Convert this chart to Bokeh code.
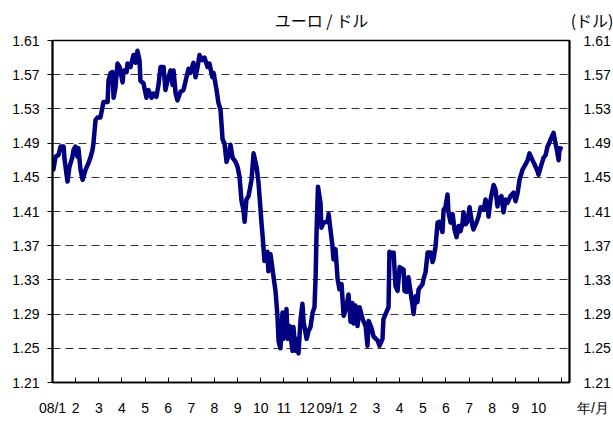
from bokeh.plotting import figure
from bokeh.models import FixedTicker, LinearAxis, Range1d, PrintfTickFormatter
from bokeh.embed import file_html
from bokeh.resources import INLINE

# months since 2008-01-01 (0 = 08/1, 12 = 09/1)
months = [0.00, 0.04, 0.13, 0.26, 0.35, 0.48, 0.52, 0.65, 0.73, 0.86, 0.91, 0.99, 1.08, 1.12, 1.21, 1.30,
          1.43, 1.56, 1.64, 1.73, 1.77, 1.86, 1.94, 2.07, 2.16, 2.20, 2.38, 2.42, 2.51, 2.59, 2.64, 2.72,
          2.81, 2.90, 3.03, 3.07, 3.20, 3.24, 3.37, 3.50, 3.59, 3.67, 3.76, 3.80, 3.93, 4.06, 4.15, 4.28,
          4.36, 4.49, 4.58, 4.67, 4.80, 4.88, 4.97, 5.10, 5.19, 5.23, 5.32, 5.40, 5.53, 5.66, 5.79, 5.88,
          5.96, 6.09, 6.18, 6.27, 6.35, 6.48, 6.57, 6.70, 6.78, 6.91, 6.96, 7.09, 7.17, 7.26, 7.35, 7.43,
          7.52, 7.61, 7.69, 7.78, 7.91, 8.00, 8.08, 8.17, 8.25, 8.30, 8.38, 8.47, 8.60, 8.69, 8.82, 8.90,
          8.99, 9.03, 9.08, 9.16, 9.29, 9.33, 9.42, 9.55, 9.64, 9.72, 9.77, 9.85, 9.94, 9.98, 10.11, 10.16,
          10.24, 10.37, 10.41, 10.50, 10.59, 10.63, 10.72, 10.80, 10.85, 10.98, 11.06, 11.15, 11.24, 11.32,
          11.37, 11.41, 11.47, 11.58, 11.62, 11.71, 11.88, 11.93, 12.10, 12.14, 12.23, 12.32, 12.40, 12.49,
          12.58, 12.71, 12.79, 12.88, 12.96, 13.01, 13.09, 13.18, 13.27, 13.40, 13.53, 13.61, 13.66, 13.79,
          13.87, 14.05, 14.13, 14.26, 14.30, 14.39, 14.52, 14.56, 14.69, 14.74, 14.82, 14.91, 15.00, 15.17,
          15.21, 15.30, 15.38, 15.47, 15.56, 15.60, 15.69, 15.77, 15.82, 15.99, 16.03, 16.12, 16.21, 16.34,
          16.42, 16.46, 16.55, 16.64, 16.72, 16.85, 16.90, 16.98, 17.07, 17.11, 17.20, 17.29, 17.37, 17.46,
          17.55, 17.63, 17.72, 17.76, 17.85, 17.93, 18.02, 18.15, 18.19, 18.32, 18.41, 18.50, 18.63, 18.71,
          18.80, 18.84, 18.93, 19.06, 19.14, 19.23, 19.27, 19.40, 19.49, 19.58, 19.66, 19.79, 19.92, 20.01,
          20.10, 20.18, 20.31, 20.44, 20.53, 20.61, 20.74, 20.83, 20.96, 21.00, 21.13, 21.22, 21.31, 21.39,
          21.43, 21.52, 21.65, 21.69, 21.78, 21.87, 21.91, 22.04]

eur_usd = [1.473, 1.459, 1.474, 1.476, 1.486, 1.486, 1.471, 1.445, 1.462, 1.474, 1.482, 1.486, 1.474, 1.484, 1.459, 1.447,
           1.459, 1.467, 1.473, 1.482, 1.490, 1.517, 1.520, 1.520, 1.532, 1.538, 1.538, 1.563, 1.572, 1.573, 1.543, 1.555,
           1.583, 1.579, 1.561, 1.575, 1.573, 1.583, 1.579, 1.593, 1.584, 1.598, 1.587, 1.563, 1.560, 1.543, 1.552, 1.543,
           1.548, 1.544, 1.558, 1.579, 1.579, 1.552, 1.563, 1.575, 1.558, 1.575, 1.548, 1.540, 1.550, 1.552, 1.567, 1.577,
           1.572, 1.584, 1.567, 1.579, 1.593, 1.587, 1.590, 1.579, 1.583, 1.567, 1.572, 1.552, 1.537, 1.529, 1.494, 1.490,
           1.468, 1.476, 1.488, 1.473, 1.468, 1.462, 1.451, 1.422, 1.412, 1.398, 1.424, 1.428, 1.447, 1.478, 1.462, 1.444,
           1.412, 1.397, 1.381, 1.352, 1.363, 1.340, 1.360, 1.334, 1.316, 1.288, 1.258, 1.250, 1.292, 1.261, 1.296, 1.261,
           1.276, 1.247, 1.275, 1.247, 1.261, 1.244, 1.284, 1.302, 1.281, 1.261, 1.270, 1.275, 1.292, 1.298,
           1.334, 1.386, 1.439, 1.420, 1.391, 1.397, 1.398, 1.407, 1.369, 1.354, 1.366, 1.331, 1.319, 1.325,
           1.288, 1.300, 1.313, 1.281, 1.303, 1.279, 1.300, 1.276, 1.298, 1.284, 1.276, 1.253, 1.282, 1.273,
           1.264, 1.259, 1.253, 1.261, 1.284, 1.290, 1.298, 1.363, 1.360, 1.362, 1.323, 1.317, 1.345, 1.342,
           1.317, 1.316, 1.333, 1.316, 1.300, 1.290, 1.311, 1.304, 1.319, 1.325, 1.331, 1.339, 1.362, 1.362,
           1.351, 1.354, 1.369, 1.397, 1.398, 1.386, 1.412, 1.415, 1.430, 1.409, 1.397, 1.407, 1.389, 1.380,
           1.393, 1.387, 1.397, 1.409, 1.395, 1.398, 1.415, 1.393, 1.389, 1.397, 1.404, 1.415, 1.412, 1.424,
           1.418, 1.404, 1.424, 1.441, 1.436, 1.416, 1.424, 1.428, 1.409, 1.424, 1.420, 1.428, 1.432, 1.422,
           1.432, 1.447, 1.459, 1.465, 1.470, 1.478, 1.470, 1.465, 1.457, 1.453, 1.465, 1.473, 1.476, 1.486,
           1.488, 1.494, 1.502, 1.496, 1.484, 1.470, 1.484, 1.483]

X_END = 22.34

x_ticks = list(range(0, 23)) + [X_END]
x_tick_labels = ["08/1", "2", "3", "4", "5", "6", "7", "8", "9", "10", "11", "12",
                 "09/1", "2", "3", "4", "5", "6", "7", "8", "9", "10", "",
                 "\u00a0" * 12 + "年/月"]
y_ticks = [1.21, 1.25, 1.29, 1.33, 1.37, 1.41, 1.45, 1.49, 1.53, 1.57, 1.61]

# top texts: chart title and the unit of the value axes
top_ticks = [11.62, X_END]
top_labels = ["ユーロ / ドル", "\u00a0" * 13 + "(ドル)"]

NUM_FONT = "Liberation Sans"
JP_FONT = "Noto Sans CJK JP"

p = figure(width=613, height=418, output_backend="svg", toolbar_location=None,
           x_range=Range1d(0, X_END), y_range=Range1d(1.21, 1.61),
           min_border_left=52, min_border_right=44, min_border_top=40, min_border_bottom=34)
p.background_fill_color = "white"
p.border_fill_color = "white"
p.outline_line_color = "black"
p.outline_line_width = 1.5

p.line(months, eur_usd, line_width=4.5, line_color="#000080", line_join="round")

# grid
p.xgrid.visible = False
p.ygrid.ticker = FixedTicker(ticks=y_ticks[1:-1])
p.ygrid.grid_line_color = "#333333"
p.ygrid.grid_line_width = 1
p.ygrid.grid_line_dash = "8 5"

# bottom axis
xa = p.xaxis[0]
xa.ticker = FixedTicker(ticks=x_ticks)
xa.major_label_overrides = {t: l for t, l in zip(x_ticks, x_tick_labels)}
xa.major_tick_in = 5
xa.major_tick_out = 0
xa.minor_tick_line_color = None
xa.major_tick_line_color = "black"
xa.axis_line_color = "black"
xa.axis_line_width = 1.5
xa.major_label_standoff = 17
xa.major_label_text_font = NUM_FONT
xa.major_label_text_font_size = "14px"
xa.major_label_text_color = "black"

# top "axis" used only to carry the title and the unit text
ta = LinearAxis(ticker=FixedTicker(ticks=top_ticks))
ta.major_label_overrides = {t: l for t, l in zip(top_ticks, top_labels)}
ta.major_label_text_font = JP_FONT
ta.major_label_text_font_size = "16px"
ta.major_label_text_color = "black"
ta.major_label_standoff = 9
ta.major_tick_in = 0
ta.major_tick_out = 0
ta.major_tick_line_color = None
ta.minor_tick_line_color = None
ta.axis_line_color = None
p.add_layout(ta, "above")

# left axis
ya = p.yaxis[0]
ya.ticker = FixedTicker(ticks=y_ticks)
ya.formatter = PrintfTickFormatter(format="%.2f")
ya.major_tick_in = 0
ya.major_tick_out = 5
ya.minor_tick_line_color = None
ya.axis_line_width = 2
ya.axis_line_color = "black"
ya.major_label_standoff = 8
ya.major_label_text_font = NUM_FONT
ya.major_label_text_font_size = "14px"
ya.major_label_text_color = "black"

# right axis
ra = LinearAxis(ticker=FixedTicker(ticks=y_ticks), formatter=PrintfTickFormatter(format="%.2f"))
ra.major_tick_in = 0
ra.major_tick_out = 0
ra.minor_tick_line_color = None
ra.axis_line_width = 2
ra.axis_line_color = "black"
ra.major_label_standoff = 14
ra.major_label_text_font = NUM_FONT
ra.major_label_text_font_size = "14px"
ra.major_label_text_color = "black"
p.add_layout(ra, "right")

open("out.html", "w").write(file_html(p, INLINE))
